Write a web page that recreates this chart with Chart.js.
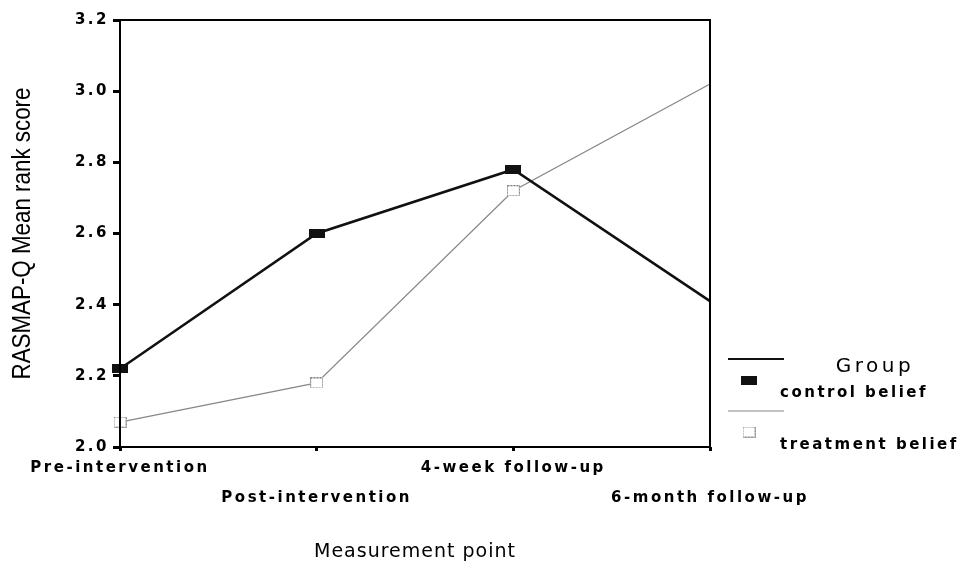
<!DOCTYPE html>
<html>
<head>
<meta charset="utf-8">
<script src="https://cdn.jsdelivr.net/npm/chart.js@4"></script>
<style>
body { margin: 0; background: #fff; }
#wrap { width: 976px; height: 564px; }
</style>
</head>
<body>
<div id="wrap"><canvas id="chart" width="976" height="564"></canvas></div>
<script>
var categories = ['Pre-intervention', 'Post-intervention', '4-week follow-up', '6-month follow-up'];
var controlBelief = [2.22, 2.60, 2.78, 2.41];
var treatmentBelief = [2.07, 2.18, 2.72, 3.02];
var yTicks = [2.0, 2.2, 2.4, 2.6, 2.8, 3.0, 3.2];
var seriesNames = ['control belief', 'treatment belief'];
var legendTitle = 'Group';
var xTitle = 'Measurement point';
var yTitle = 'RASMAP-Q Mean rank score';

// little canvases used as point markers
function marker(w, h, fill, stroke) {
    var c = document.createElement('canvas');
    c.width = w; c.height = h;
    var g = c.getContext('2d');
    if (fill) { g.fillStyle = fill; g.fillRect(0, 0, w, h); }
    if (stroke) {
        g.strokeStyle = stroke; g.lineWidth = 1; g.setLineDash([2, 1]);
        g.strokeRect(0.5, 0.5, w - 1, h - 1);
    }
    return c;
}
var controlMark = marker(16, 9, '#111', null);
var treatMark = marker(13, 11, '#fff', '#777');

var spacing = {
    id: 'spacing',
    beforeUpdate: function (chart) { chart.ctx.letterSpacing = '2.5px'; },
    beforeDraw: function (chart) { chart.ctx.letterSpacing = '2.5px'; }
};

var frame = {
    id: 'frame',
    afterDatasetsDraw: function (chart) {
        var ctx = chart.ctx, a = chart.chartArea;
        ctx.save();
        ctx.strokeStyle = '#000';
        ctx.lineWidth = 2;
        ctx.strokeRect(a.left, a.top, a.right - a.left, a.bottom - a.top);
        ctx.restore();
    }
};

var extras = {
    id: 'extras',
    afterDraw: function (chart) {
        var ctx = chart.ctx, a = chart.chartArea;
        ctx.save();
        ctx.fillStyle = '#000';
        // y title, condensed
        ctx.letterSpacing = '0px';
        ctx.font = '26px "Liberation Sans"';
        var w = ctx.measureText(yTitle).width;
        ctx.translate(23, (a.top + a.bottom) / 2);
        ctx.rotate(-Math.PI / 2);
        ctx.scale(292 / w, 1);
        ctx.textAlign = 'center';
        ctx.textBaseline = 'middle';
        ctx.fillText(yTitle, 0, 0);
        ctx.restore();

        ctx.save();
        ctx.fillStyle = '#000';
        ctx.textBaseline = 'middle';
        ctx.textAlign = 'center';
        ctx.letterSpacing = '1px';
        ctx.font = '19px "DejaVu Sans"';
        ctx.fillText(xTitle, (a.left + a.right) / 2, 552);

        // legend
        ctx.letterSpacing = '3.5px';
        ctx.font = '20px "DejaVu Sans"';
        ctx.fillText(legendTitle, 875, 367);
        ctx.textAlign = 'left';
        ctx.letterSpacing = '2.5px';
        ctx.font = 'bold 15px "DejaVu Sans"';
        chart.data.datasets.forEach(function (ds, i) {
            var y0 = 359 + i * 52;
            ctx.strokeStyle = ds.borderColor;
            ctx.lineWidth = Math.max(1.2, ds.borderWidth - 0.5);
            ctx.beginPath(); ctx.moveTo(728, y0); ctx.lineTo(784, y0); ctx.stroke();
            var m = ds.pointStyle;
            ctx.drawImage(m, 749 - m.width / 2, y0 + 21 - m.height / 2);
            ctx.fillText(ds.label, 780, y0 + 34);
        });
        ctx.restore();
    }
};

new Chart(document.getElementById('chart'), {
    type: 'line',
    data: {
        labels: categories,
        datasets: [{
            label: seriesNames[0],
            data: controlBelief,
            borderColor: '#111',
            borderWidth: 2.5,
            pointStyle: controlMark,
            pointRadius: function (c) { return c.dataIndex === 3 ? 0 : 6; },
            tension: 0
        }, {
            label: seriesNames[1],
            data: treatmentBelief,
            borderColor: '#888',
            borderWidth: 1.3,
            pointStyle: treatMark,
            pointRadius: function (c) { return c.dataIndex === 3 ? 0 : 6; },
            tension: 0
        }]
    },
    options: {
        responsive: false,
        animation: false,
        layout: { padding: { left: 0, top: 20, right: 266, bottom: 0 } },
        plugins: { legend: { display: false }, tooltip: { enabled: false } },
        scales: {
            x: {
                type: 'category',
                offset: false,
                afterFit: function (s) { s.height = 117; },
                grid: { display: true, drawOnChartArea: false, offset: false, tickLength: 4, tickWidth: 3, tickColor: '#000' },
                border: { display: false },
                ticks: {
                    color: '#000',
                    padding: 2,
                    maxRotation: 0,
                    autoSkip: false,
                    font: { family: '"DejaVu Sans"', size: 15, weight: 'bold', lineHeight: 2 },
                    callback: function (v, i) { return i % 2 ? ['', categories[i]] : categories[i]; }
                }
            },
            y: {
                min: 2.0,
                max: 3.2,
                afterFit: function (s) { s.width = 120; },
                afterBuildTicks: function (s) { s.ticks = yTicks.map(function (v) { return { value: v }; }); },
                grid: { display: true, drawOnChartArea: false, tickLength: 7, tickWidth: 3, tickColor: '#000' },
                border: { display: false },
                ticks: {
                    color: '#000',
                    padding: 4,
                    font: { family: '"DejaVu Sans"', size: 15, weight: 'bold' },
                    callback: function (v) { return v.toFixed(1); }
                }
            }
        }
    },
    plugins: [spacing, frame, extras]
});
</script>
</body>
</html>
